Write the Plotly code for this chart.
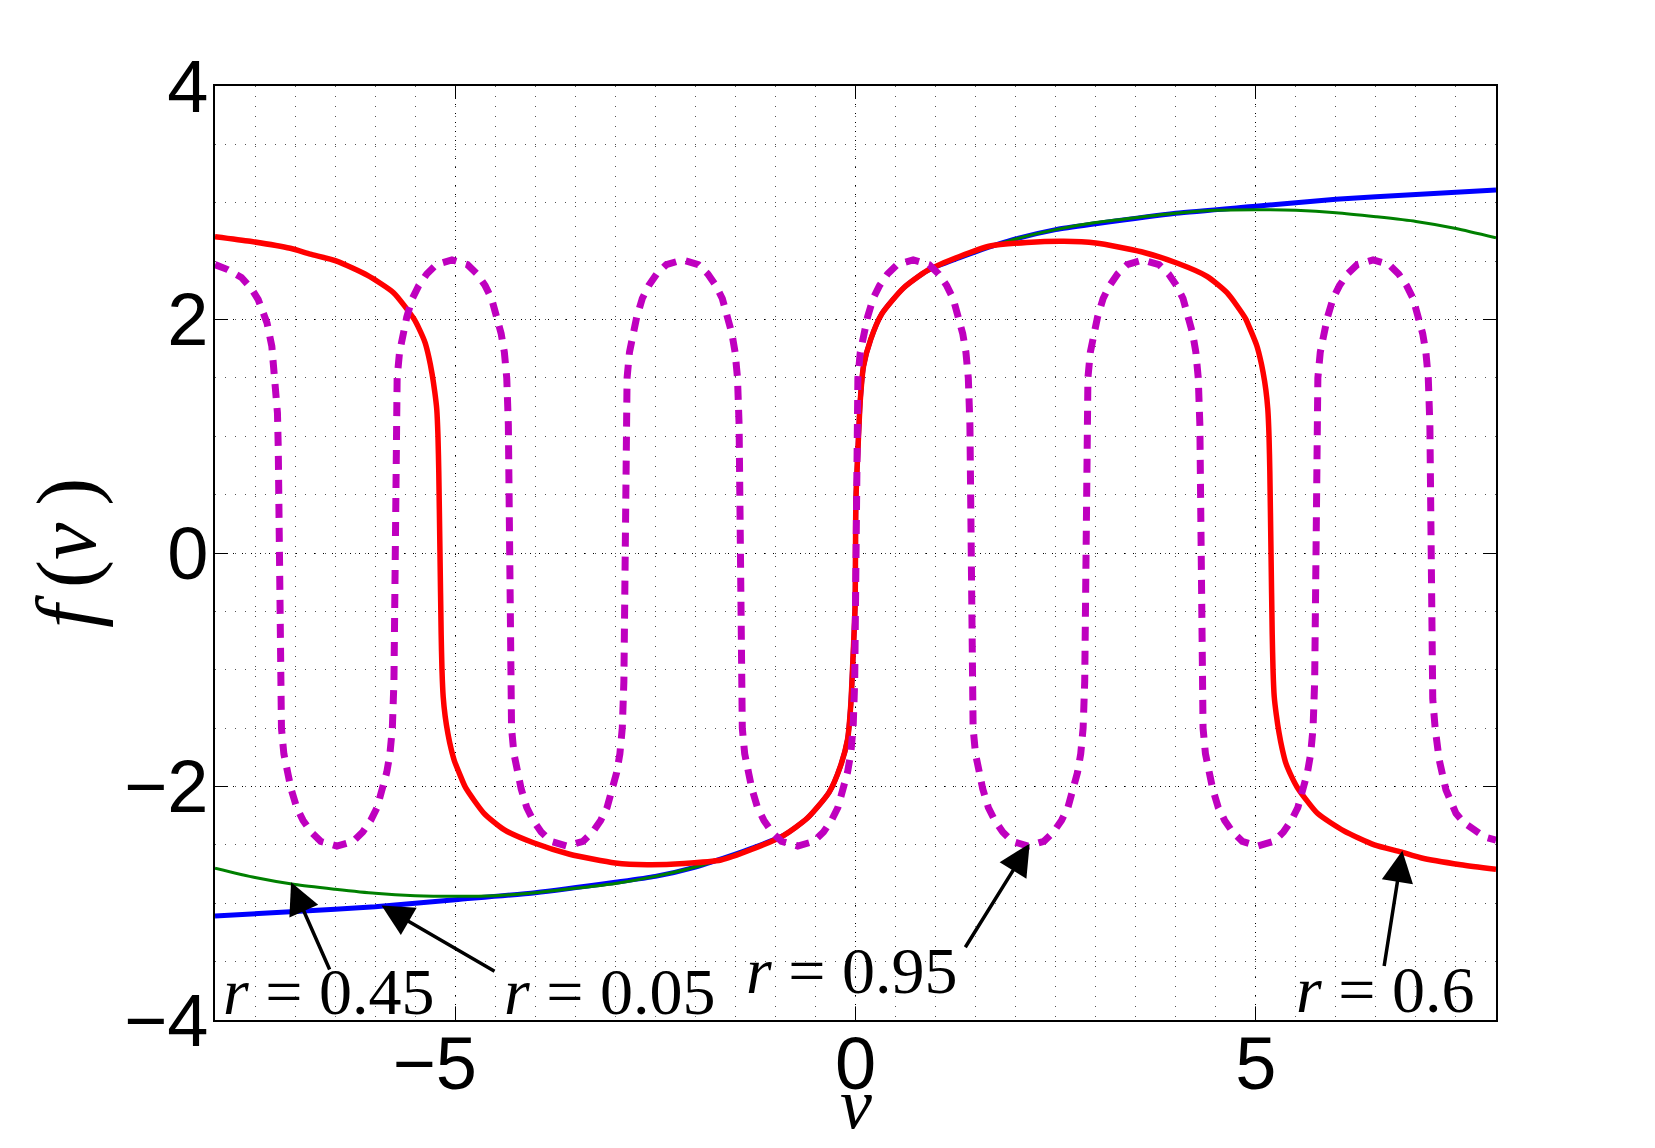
import plotly.graph_objects as go

# ---- data ----
blue_v = [-8, -7, -6, -5, -4, -3, -2.5, -2, -1.5, -1.3, -0.9, -0.6, -0.33, -0.19, -0.1, -0.06, -0.03, -0.005, 0,
          0.005, 0.03, 0.06, 0.1, 0.19, 0.33, 0.6, 0.9, 1.3, 1.5, 2, 2.5, 3, 4, 5, 6, 7, 8]
blue_f = [-3.11, -3.07, -3.03, -2.97, -2.91, -2.82, -2.77, -2.69, -2.58, -2.53, -2.42, -2.27, -2.05, -1.83, -1.6, -1.31, -0.88, -0.45, 0,
          0.45, 0.88, 1.31, 1.6, 1.83, 2.05, 2.27, 2.42, 2.53, 2.58, 2.69, 2.77, 2.82, 2.91, 2.97, 3.03, 3.07, 3.11]

green_v = [-8, -7.5, -7, -6.5, -6, -5.5, -5, -4.5, -4, -3, -2.5, -2, -1.5, -1.3, -0.9, -0.6, -0.33, -0.19, -0.1, -0.06, -0.03, -0.005, 0,
           0.005, 0.03, 0.06, 0.1, 0.19, 0.33, 0.6, 0.9, 1.3, 1.5, 2, 2.5, 3, 4, 4.5, 5, 5.5, 6, 6.5, 7, 7.5, 8]
green_f = [-2.7, -2.78, -2.84, -2.88, -2.915, -2.935, -2.94, -2.935, -2.91, -2.83, -2.77, -2.69, -2.58, -2.53, -2.42, -2.27, -2.05, -1.83, -1.6, -1.31, -0.88, -0.45, 0,
           0.45, 0.88, 1.31, 1.6, 1.83, 2.05, 2.27, 2.42, 2.53, 2.58, 2.69, 2.77, 2.83, 2.91, 2.935, 2.94, 2.935, 2.915, 2.88, 2.84, 2.78, 2.7]

red_v = [-8, -7.56, -7.06, -6.81, -6.48, -6.1, -5.77, -5.52, -5.45, -5.375, -5.33, -5.29, -5.255, -5.23, -5.215, -5.205, -5.19,
         -5.175, -5.165, -5.15, -5.125, -5.09, -5.05, -5.01, -4.94,
         -4.87, -4.64, -4.39, -4.03, -3.57, -3.0, -2.6, -2.14, -1.68, -1.3, -0.9, -0.6, -0.33, -0.19, -0.1, -0.06, -0.03, -0.005, 0,
         0.005, 0.03, 0.06, 0.1, 0.19, 0.33, 0.6, 0.9, 1.3, 1.68, 2.14, 2.6, 3.0, 3.57, 4.03, 4.39, 4.64, 4.87,
         4.94, 5.01, 5.05, 5.09, 5.125, 5.15, 5.165, 5.175,
         5.19, 5.205, 5.215, 5.23, 5.255, 5.29, 5.33, 5.375, 5.45, 5.52, 5.77, 6.1, 6.48, 6.81, 7.06, 7.56, 8]
red_f = [2.71, 2.67, 2.61, 2.56, 2.50, 2.38, 2.23, 2.01, 1.92, 1.80, 1.68, 1.54, 1.38, 1.23, 1.0, 0.7, 0,
         -0.7, -1.0, -1.23, -1.4, -1.55, -1.68, -1.78, -1.9,
         -2.01, -2.23, -2.37, -2.48, -2.58, -2.655, -2.67, -2.66, -2.63, -2.54, -2.42, -2.27, -2.05, -1.83, -1.6, -1.31, -0.88, -0.45, 0,
         0.45, 0.88, 1.31, 1.6, 1.83, 2.05, 2.27, 2.42, 2.54, 2.63, 2.66, 2.67, 2.655, 2.58, 2.48, 2.37, 2.23, 2.01,
         1.9, 1.78, 1.68, 1.55, 1.4, 1.23, 1.0, 0.7,
         0, -0.7, -1.0, -1.23, -1.38, -1.54, -1.68, -1.80, -1.92, -2.01, -2.23, -2.38, -2.50, -2.56, -2.61, -2.67, -2.71]

mag_v = [-8.0, -7.85, -7.67, -7.55, -7.46, -7.35, -7.29, -7.25, -7.22, -7.21, -7.20,
         -7.19, -7.17, -7.14, -7.10, -7.05, -6.98, -6.90, -6.80, -6.68, -6.478, -6.275, -6.155, -6.055, -5.975, -5.905, -5.855, -5.815, -5.785, -5.765, -5.755,
         -5.745, -5.725, -5.695, -5.655, -5.605, -5.535, -5.455, -5.355, -5.235, -5.04, -4.846, -4.726, -4.626, -4.546, -4.476, -4.426, -4.386, -4.356, -4.336, -4.326,
         -4.316, -4.296, -4.266, -4.226, -4.176, -4.106, -4.026, -3.926, -3.806, -3.605, -3.403, -3.283, -3.183, -3.103, -3.033, -2.983, -2.943, -2.913, -2.893, -2.883,
         -2.873, -2.853, -2.823, -2.783, -2.733, -2.663, -2.583, -2.483, -2.363, -2.164, -1.964, -1.844, -1.744, -1.664, -1.594, -1.544, -1.504, -1.474, -1.454, -1.444,
         -1.434, -1.414, -1.384, -1.344, -1.294, -1.224, -1.144, -1.044, -0.924, -0.722, -0.52, -0.40, -0.30, -0.22, -0.15, -0.10, -0.06, -0.03, -0.01, 0,
         0.01, 0.03, 0.06, 0.10, 0.15, 0.22, 0.30, 0.40, 0.52, 0.72, 0.919, 1.039, 1.139, 1.219, 1.289, 1.339, 1.379, 1.409, 1.429, 1.439,
         1.449, 1.469, 1.499, 1.539, 1.589, 1.659, 1.739, 1.839, 1.959, 2.156, 2.353, 2.473, 2.573, 2.653, 2.723, 2.773, 2.813, 2.843, 2.863, 2.873,
         2.883, 2.903, 2.933, 2.973, 3.023, 3.093, 3.173, 3.273, 3.393, 3.592, 3.791, 3.911, 4.011, 4.091, 4.161, 4.211, 4.251, 4.281, 4.301, 4.311,
         4.321, 4.341, 4.371, 4.411, 4.461, 4.531, 4.611, 4.711, 4.831, 5.028, 5.225, 5.345, 5.445, 5.525, 5.595, 5.645, 5.685, 5.715, 5.735, 5.745,
         5.755, 5.775, 5.805, 5.845, 5.895, 5.965, 6.045, 6.145, 6.265, 6.465, 6.664, 6.784, 6.884, 6.964, 7.034, 7.084, 7.124, 7.154, 7.174, 7.184,
         7.194, 7.21, 7.24, 7.29, 7.375, 7.5, 7.6, 7.71, 7.85, 8.0]
mag_f = [2.47, 2.43, 2.36, 2.27, 2.17, 1.97, 1.77, 1.51, 1.2, 0.9, 0,
         -1.1, -1.5, -1.72, -1.88, -2.02, -2.18, -2.29, -2.39, -2.47, -2.51, -2.47, -2.39, -2.29, -2.18, -2.02, -1.88, -1.72, -1.5, -1.1, 0,
         1.1, 1.5, 1.72, 1.88, 2.02, 2.18, 2.29, 2.39, 2.47, 2.51, 2.47, 2.39, 2.29, 2.18, 2.02, 1.88, 1.72, 1.5, 1.1, 0,
         -1.1, -1.5, -1.72, -1.88, -2.02, -2.18, -2.29, -2.39, -2.47, -2.51, -2.47, -2.39, -2.29, -2.18, -2.02, -1.88, -1.72, -1.5, -1.1, 0,
         1.1, 1.5, 1.72, 1.88, 2.02, 2.18, 2.29, 2.39, 2.47, 2.51, 2.47, 2.39, 2.29, 2.18, 2.02, 1.88, 1.72, 1.5, 1.1, 0,
         -1.1, -1.5, -1.72, -1.88, -2.02, -2.18, -2.29, -2.39, -2.47, -2.51, -2.47, -2.39, -2.29, -2.18, -2.02, -1.88, -1.72, -1.5, -1.1, 0,
         1.1, 1.5, 1.72, 1.88, 2.02, 2.18, 2.29, 2.39, 2.47, 2.51, 2.47, 2.39, 2.29, 2.18, 2.02, 1.88, 1.72, 1.5, 1.1, 0,
         -1.1, -1.5, -1.72, -1.88, -2.02, -2.18, -2.29, -2.39, -2.47, -2.51, -2.47, -2.39, -2.29, -2.18, -2.02, -1.88, -1.72, -1.5, -1.1, 0,
         1.1, 1.5, 1.72, 1.88, 2.02, 2.18, 2.29, 2.39, 2.47, 2.51, 2.47, 2.39, 2.29, 2.18, 2.02, 1.88, 1.72, 1.5, 1.1, 0,
         -1.1, -1.5, -1.72, -1.88, -2.02, -2.18, -2.29, -2.39, -2.47, -2.51, -2.47, -2.39, -2.29, -2.18, -2.02, -1.88, -1.72, -1.5, -1.1, 0,
         1.1, 1.5, 1.72, 1.88, 2.02, 2.18, 2.29, 2.39, 2.47, 2.51, 2.47, 2.39, 2.29, 2.18, 2.02, 1.88, 1.72, 1.5, 1.1, 0,
         -0.9, -1.25, -1.5, -1.77, -2.03, -2.23, -2.31, -2.37, -2.43, -2.46]

x_ticks = [-5, 0, 5]
x_tick_text = ["\u22125\u2007", "0", "5"]
y_ticks = [-4, -2, 0, 2, 4]
y_tick_text = ["\u22124", "\u22122", "0", "2", "4"]

labels = ["<i>r</i> = 0.45", "<i>r</i> = 0.05", "<i>r</i> = 0.95", "<i>r</i> = 0.6"]
label_pos = [(-6.58, -3.76), (-3.07, -3.76), (-0.05, -3.58), (6.61, -3.74)]
arrow_head = [(-7.05, -2.82), (-5.92, -3.02), (2.175, -2.49), (6.83, -2.55)]
arrow_tail = [(-6.56, -3.58), (-4.49, -3.59), (1.36, -3.39), (6.60, -3.55)]

fig = go.Figure()
fig.add_trace(go.Scatter(x=blue_v, y=blue_f, mode="lines",
                         line=dict(color="#0000FF", width=5, shape="spline", smoothing=0.6)))
fig.add_trace(go.Scatter(x=green_v, y=green_f, mode="lines",
                         line=dict(color="#008000", width=3, shape="spline", smoothing=0.6)))
fig.add_trace(go.Scatter(x=red_v, y=red_f, mode="lines",
                         line=dict(color="#FF0000", width=5.5, shape="spline", smoothing=0.6)))
fig.add_trace(go.Scatter(x=mag_v, y=mag_f, mode="lines",
                         line=dict(color="#BF00BF", width=7, dash="14px,10px")))

serif = "Liberation Serif"
annotations = []
for t, (x, y) in zip(labels, label_pos):
    annotations.append(dict(x=x, y=y, xref="x", yref="y", text=t, showarrow=False,
                            xanchor="center", yanchor="middle",
                            font=dict(family=serif, size=66, color="black")))
for (hx, hy), (tx, ty) in zip(arrow_head, arrow_tail):
    annotations.append(dict(x=hx, y=hy, ax=tx, ay=ty, xref="x", yref="y", axref="x", ayref="y",
                            text="", showarrow=True, arrowhead=2, arrowsize=1.8, arrowwidth=3.5,
                            arrowcolor="black"))
# axis titles
annotations.append(dict(x=0.5, xref="paper", y=-0.135, yref="paper", xanchor="center", yanchor="bottom",
                        text="<i>v</i>", showarrow=False, font=dict(family=serif, size=72, color="black")))
annotations.append(dict(x=-0.1155, xref="paper", y=0.5, yref="paper", xanchor="center", yanchor="middle",
                        textangle=-90, text="<i>f</i>\u2009(<i>v</i>\u2009)", showarrow=False,
                        font=dict(family=serif, size=84, color="black")))

axis_common = dict(showline=True, linecolor="black", linewidth=1.5, mirror="ticks",
                   ticks="inside", ticklen=13, tickwidth=1.2, tickcolor="black",
                   showgrid=True, gridcolor="black", gridwidth=1, griddash="1px,8px",
                   zeroline=False,
                   tickfont=dict(family="Liberation Sans", size=74, color="black"))
minor_grid = dict(dtick=0.5, tick0=0, showgrid=True, gridcolor="#555555", gridwidth=1, griddash="1px,9px")

fig.update_layout(
    width=1655, height=1148,
    margin=dict(l=215, r=159, t=86, b=128),
    paper_bgcolor="white", plot_bgcolor="white",
    showlegend=False,
    xaxis=dict(range=[-8, 8], tickvals=x_ticks, ticktext=x_tick_text, ticklabelstandoff=-22,
               minor=minor_grid, **axis_common),
    yaxis=dict(range=[-4, 4], tickvals=y_ticks, ticktext=y_tick_text, ticklabelstandoff=-10,
               minor=minor_grid, **axis_common),
    annotations=annotations,
)

fig.write_html("out.html")
